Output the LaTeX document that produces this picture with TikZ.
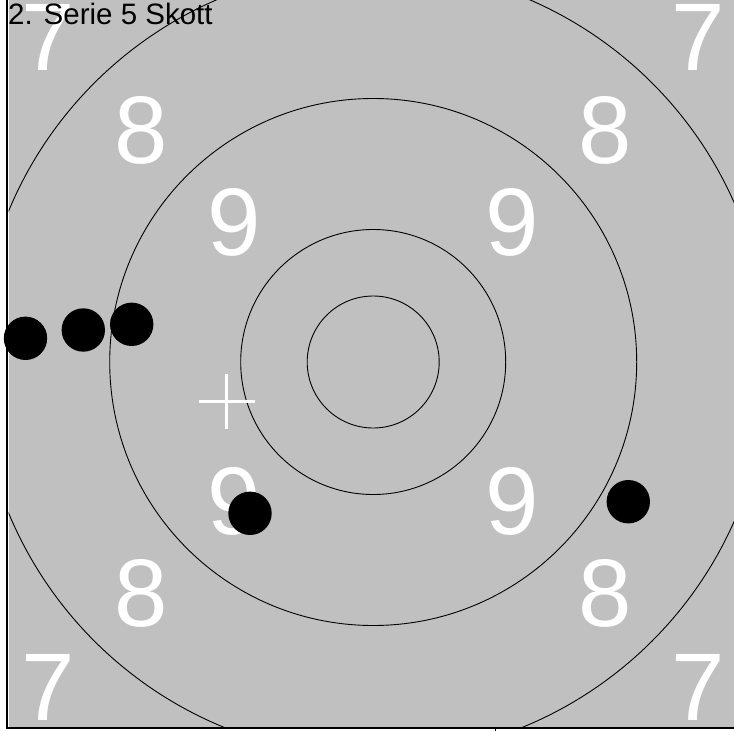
\documentclass[tikz,border=0pt]{standalone}
\usepackage{fontspec}
\setmainfont{Liberation Sans}
\definecolor{targetgray}{HTML}{C0C0C0}
\tikzset{
  ring/.style={draw=black, line width=0.9pt, fill=none},
  score/.style={text=white, font=\fontsize{96}{96}\selectfont, inner sep=0pt, anchor=center},
  shot/.style={circle, fill=black, draw=none, minimum size=43.4pt, inner sep=0pt},
  crossline/.style={draw=white, line width=2.6pt},
  frameline/.style={draw=black, line width=1.2pt},
  titletext/.style={text=black, font=\fontsize{29.5}{30}\selectfont, inner sep=0pt, anchor=base west}
}
\begin{document}
\begin{tikzpicture}[x=1pt, y=-1pt]
\useasboundingbox (0,0) rectangle (734,731);
\fill[white] (0,0) rectangle (734,731);
\fill[targetgray] (8.5,0) rectangle (734,727.2);
\coordinate (c) at (373.2,362);
\begin{scope}
  \clip (8.5,0) rectangle (734,727.2);
  \draw[ring] (c) circle[radius=66];
  \draw[ring] (c) circle[radius=132.5];
  \draw[ring] (c) circle[radius=263.5];
  \draw[ring] (c) circle[radius=394.5];
\end{scope}
% score numbers
\node[score] (n7a) at (48.2,37) {7};
\node[score] (n7b) at (698.2,37) {7};
\node[score] (n7c) at (48.2,687) {7};
\node[score] (n7d) at (698.2,687) {7};
\node[score] (n8a) at (141.2,130.5) {8};
\node[score] (n8b) at (605.2,130.5) {8};
\node[score] (n8c) at (141.2,593.5) {8};
\node[score] (n8d) at (605.2,593.5) {8};
\node[score] (n9a) at (234.2,222.5) {9};
\node[score] (n9b) at (512.2,222.5) {9};
\node[score] (n9c) at (234.2,501.5) {9};
\node[score] (n9d) at (512.2,501.5) {9};
% shots
\node[shot] (s1) at (25.5,338.3) {};
\node[shot] (s2) at (83.3,330) {};
\node[shot] (s3) at (131.7,324.3) {};
\node[shot] (s4) at (250,513.3) {};
\node[shot] (s5) at (628.3,501.7) {};
% aim cross
\coordinate (x0) at (226.7,401.7);
\coordinate (xl) at (199,401.7);
\coordinate (xr) at (254.5,401.7);
\coordinate (xt) at (226.7,374);
\coordinate (xb) at (226.7,429.3);
\draw[crossline] (xl) -- (xr);
\draw[crossline] (xt) -- (xb);
% frame
\coordinate (ftl) at (7,0);
\coordinate (fbl) at (7,728);
\coordinate (fbr) at (734,728);
\coordinate (tk1) at (495.5,728);
\coordinate (tk2) at (495.5,731);
\draw[frameline] (ftl) -- (fbl) -- (fbr);
\draw[frameline] (tk1) -- (tk2);
% title
\node[titletext] (title) at (8,24) {2. Serie 5 Skott};
\end{tikzpicture}
\end{document}
